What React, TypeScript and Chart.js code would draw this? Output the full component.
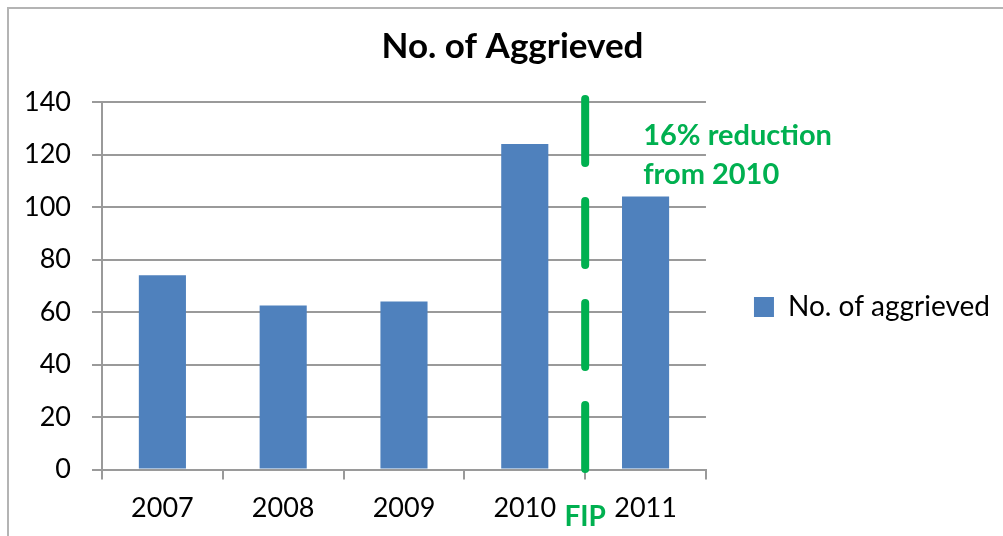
import React, { useEffect, useRef } from "react";
import { Chart, registerables } from "chart.js";

Chart.register(...registerables);

const categories = ["2007", "2008", "2009", "2010", "2011"];
const aggrieved = [74, 62.5, 64, 124, 104];
const yMin = 0;
const yMax = 140;
const yStep = 20;
const seriesLabel = "No. of aggrieved";
const titleText = "No. of Aggrieved";
const noteLines = ["16% reduction", "from 2010"];
const noteValues = [123.7, 108.8];
const markerLabel = "FIP";
const markerBetween = [3, 4];

const BAR = "#4F81BD";
const GREEN = "#00B050";
const GRID = "#9a9a9a";
const FONT = "Lato";

const fipPlugin = {
  id: "fipMarker",
  afterDatasetsDraw(chart: any) {
    const { ctx, scales, chartArea } = chart;
    const x = scales.x;
    const y = scales.y;
    const xm = (x.getPixelForValue(markerBetween[0]) + x.getPixelForValue(markerBetween[1])) / 2;
    ctx.save();
    ctx.strokeStyle = GREEN;
    ctx.lineWidth = 8;
    ctx.lineCap = "round";
    ctx.setLineDash([64, 38]);
    ctx.beginPath();
    ctx.moveTo(xm, y.getPixelForValue(yMax) - 3);
    ctx.lineTo(xm, y.getPixelForValue(0) + 1);
    ctx.stroke();
    ctx.setLineDash([]);
    ctx.fillStyle = GREEN;
    ctx.font = `bold 29px ${FONT}`;
    ctx.textAlign = "left";
    ctx.textBaseline = "alphabetic";
    noteLines.forEach((t, i) => ctx.fillText(t, xm + 58, y.getPixelForValue(noteValues[i])));
    ctx.textAlign = "center";
    ctx.font = `bold 28px ${FONT}`;
    ctx.fillText(markerLabel, xm, chartArea.bottom + 56);
    ctx.restore();
  },
};

export default function App() {
  const ref = useRef<HTMLCanvasElement | null>(null);
  useEffect(() => {
    document.body.style.margin = "0";
    const canvas = ref.current;
    if (!canvas) return;
    const chart = new Chart(canvas, {
      type: "bar",
      data: {
        labels: categories,
        datasets: [
          {
            label: seriesLabel,
            data: aggrieved,
            backgroundColor: BAR,
            borderWidth: 0,
            categoryPercentage: 1,
            barPercentage: 0.39,
          },
        ],
      },
      options: {
        responsive: false,
        animation: false,
        layout: { padding: { left: 25, right: 3, top: 0, bottom: 0 } },
        scales: {
          x: {
            grid: { drawOnChartArea: false, drawTicks: true, tickLength: 10, color: GRID, lineWidth: 2 },
            border: { display: true, color: GRID, width: 2 },
            ticks: { color: "#000", font: { family: FONT, size: 27 }, padding: 12, maxRotation: 0 },
          },
          y: {
            min: yMin,
            max: yMax,
            grid: { color: GRID, lineWidth: 2, drawTicks: true, tickLength: 10 },
            border: { display: true, color: GRID, width: 2 },
            ticks: { stepSize: yStep, color: "#000", font: { family: FONT, size: 27 }, padding: 21 },
            afterFit: (s: any) => {
              s.width = 77;
            },
          },
        },
        plugins: {
          title: {
            display: true,
            text: titleText,
            color: "#000",
            font: { family: FONT, size: 35, weight: "bold" },
            padding: { top: 26, bottom: 34 },
          },
          legend: {
            position: "right",
            maxWidth: 320,
            title: { display: true, text: " ", font: { size: 20 }, padding: { top: 27, bottom: 27 } },
            labels: {
              boxWidth: 20,
              boxHeight: 20,
              color: "#000",
              font: { family: FONT, size: 28 },
              padding: 48,
            },
          },
          tooltip: { enabled: false },
        },
      },
      plugins: [fipPlugin],
    });
    return () => chart.destroy();
  }, []);
  return (
    <div style={{ position: "relative", width: 1003, height: 536, overflow: "hidden", background: "#fff" }}>
      <div
        style={{
          position: "absolute",
          left: 7,
          top: 7,
          width: 1100,
          height: 600,
          border: "2px solid #b4b4b4",
          boxSizing: "border-box",
        }}
      />
      <canvas ref={ref} width={1003} height={536} style={{ position: "absolute", left: 0, top: 0 }} />
    </div>
  );
}
